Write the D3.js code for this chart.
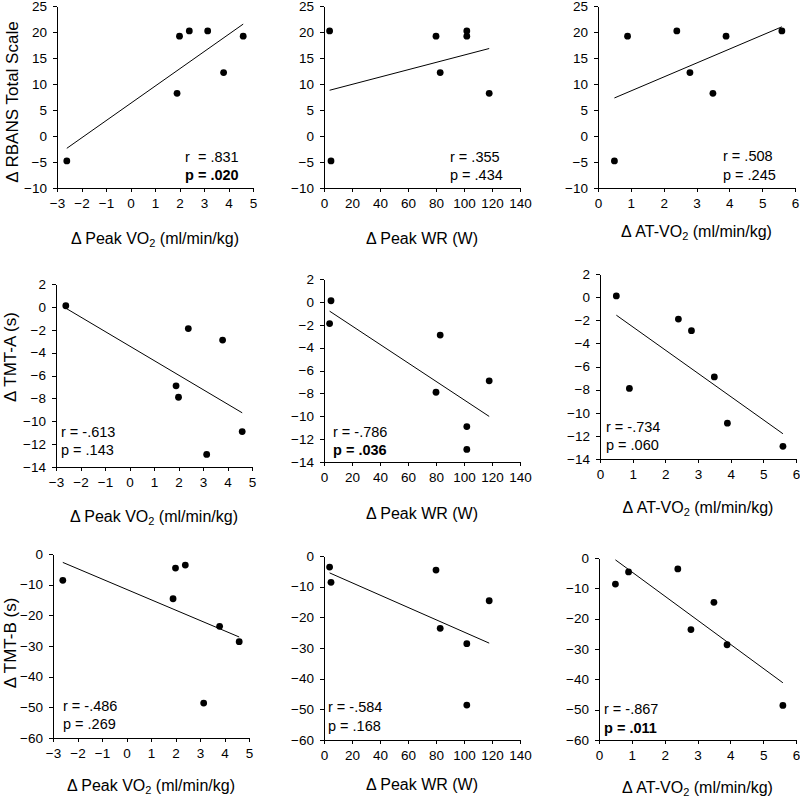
<!DOCTYPE html>
<html>
<head>
<meta charset="utf-8">
<script src="https://cdn.jsdelivr.net/npm/d3@7/dist/d3.min.js"></script>
<style>
  html, body { margin: 0; padding: 0; background: #fff; }
  svg { display: block; font-family: "Liberation Sans", Arial, Helvetica, sans-serif; }
  .axis path, .axis line { stroke: #000; shape-rendering: crispEdges; }
  .axis text { font-size: 13.5px; fill: #000; }
</style>
</head>
<body>
<svg id="chart" width="800" height="799"></svg>
<script>
// ---------------- data ----------------
const peakVO2 = [-2.6, 1.9, 2.0, 2.4, 3.15, 3.8, 4.6];
const peakVO2_rbans = [-4.8, 8.2, 19.2, 20.2, 20.2, 12.2, 19.2];
const peakVO2_tmtA  = [0.1, -6.9, -7.9, -1.9, -12.9, -2.9, -10.9];
const peakVO2_tmtB  = [-8.6, -14.6, -4.6, -3.6, -48.6, -23.6, -28.6];

const peakWR = [4, 5, 80, 83, 102, 102, 118];
const peakWR_rbans = [20.2, -4.8, 19.2, 12.2, 20.2, 19.2, 8.2];
const peakWR_tmtA_x = [5, 4, 80, 83, 102, 102, 118];
const peakWR_tmtA  = [0.1, -1.9, -7.9, -2.9, -10.9, -12.9, -6.9];
const peakWR_tmtB  = [-3.6, -8.6, -4.6, -23.6, -28.6, -48.6, -14.6];

const atVO2 = [0.5, 0.9, 2.4, 2.8, 3.5, 3.9, 5.6];
const atVO2_rbans = [-4.8, 19.2, 20.2, 12.2, 8.2, 19.2, 20.2];
const atVO2_tmtA  = [0.1, -7.9, -1.9, -2.9, -6.9, -10.9, -12.9];
const atVO2_tmtB  = [-8.6, -4.6, -3.6, -23.6, -14.6, -28.6, -48.6];

const ticksVO2 = [-3, -2, -1, 0, 1, 2, 3, 4, 5];
const ticksWR  = [0, 20, 40, 60, 80, 100, 120, 140];
const ticksAT  = [0, 1, 2, 3, 4, 5, 6];
const ticksRBANS = [-10, -5, 0, 5, 10, 15, 20, 25];
const ticksTMTA  = [-14, -12, -10, -8, -6, -4, -2, 0, 2];
const ticksTMTB  = [-60, -50, -40, -30, -20, -10, 0];

const rLabels = ["r  = .831", "r = .355", "r = .508",
                 "r = -.613", "r = -.786", "r = -.734",
                 "r = -.486", "r = -.584", "r = -.867"];
const pLabels = ["p = .020", "p = .434", "p = .245",
                 "p = .143", "p = .036", "p = .060",
                 "p = .269", "p = .168", "p = .011"];
const pBold = [true, false, false, false, true, false, false, false, true];

const xTitles = [["Δ Peak VO", "2", " (ml/min/kg)"], ["Δ Peak WR (W)", "", ""], ["Δ AT-VO", "2", " (ml/min/kg)"]];
const yTitles = ["Δ RBANS Total Scale", "Δ TMT-A (s)", "Δ TMT-B (s)"];

// ---------------- layout (pixels) ----------------
const panels = [
  {x: peakVO2, y: peakVO2_rbans, xd: [-3, 5], yd: [-10, 25], xt: ticksVO2, yt: ticksRBANS, xr: [57, 253], yr: [188, 6], col: 0, tY: 240, ann: [185, 162, 180]},
  {x: peakWR,  y: peakWR_rbans,  xd: [0, 140], yd: [-10, 25], xt: ticksWR, yt: ticksRBANS, xr: [324, 520], yr: [188, 6], col: 1, tY: 240, ann: [450, 162, 180]},
  {x: atVO2,   y: atVO2_rbans,   xd: [0, 6], yd: [-10, 25], xt: ticksAT, yt: ticksRBANS, xr: [598, 795], yr: [188, 6], col: 2, tY: 233, ann: [723, 161, 180]},
  {x: peakVO2, y: peakVO2_tmtA,  xd: [-3, 5], yd: [-14, 2], xt: ticksVO2, yt: ticksTMTA, xr: [56, 252], yr: [467, 284], col: 0, tY: 518, ann: [61, 437, 455]},
  {x: peakWR_tmtA_x, y: peakWR_tmtA, xd: [0, 140], yd: [-14, 2], xt: ticksWR, yt: ticksTMTA, xr: [324, 520], yr: [462, 279], col: 1, tY: 515, ann: [333, 437, 455]},
  {x: atVO2,   y: atVO2_tmtA,    xd: [0, 6], yd: [-14, 2], xt: ticksAT, yt: ticksTMTA, xr: [600, 796], yr: [459, 274], col: 2, tY: 509, ann: [606, 432, 450]},
  {x: peakVO2, y: peakVO2_tmtB,  xd: [-3, 5], yd: [-60, 0], xt: ticksVO2, yt: ticksTMTB, xr: [53, 249], yr: [738, 554], col: 0, tY: 787, ann: [63, 711, 729]},
  {x: peakWR,  y: peakWR_tmtB,   xd: [0, 140], yd: [-60, 0], xt: ticksWR, yt: ticksTMTB, xr: [324, 520], yr: [740, 556], col: 1, tY: 786, ann: [328, 712, 731]},
  {x: atVO2,   y: atVO2_tmtB,    xd: [0, 6], yd: [-60, 0], xt: ticksAT, yt: ticksTMTB, xr: [599, 796], yr: [740, 558], col: 2, tY: 789, ann: [604, 714, 733]}
];
const yTitlePos = [[14, 102], [12, 357], [12, 643]];

const svg = d3.select("#chart");

function regression(xs, ys) {
  const n = xs.length;
  const mx = d3.mean(xs), my = d3.mean(ys);
  let sxy = 0, sxx = 0;
  for (let i = 0; i < n; i++) { sxy += (xs[i] - mx) * (ys[i] - my); sxx += (xs[i] - mx) ** 2; }
  const b = sxy / sxx;
  return x => my + b * (x - mx);
}

panels.forEach((p, i) => {
  const xs = d3.scaleLinear().domain(p.xd).range(p.xr);
  const ys = d3.scaleLinear().domain(p.yd).range(p.yr);
  const g = svg.append("g");

  g.append("g").attr("class", "axis")
    .attr("transform", `translate(0,${p.yr[0]})`)
    .call(d3.axisBottom(xs).tickValues(p.xt).tickSize(4).tickSizeOuter(0).tickPadding(6).tickFormat(d3.format("d")))
    .call(a => a.selectAll("text").attr("dy", "0.71em"));

  g.append("g").attr("class", "axis")
    .attr("transform", `translate(${p.xr[0]},0)`)
    .call(d3.axisLeft(ys).tickValues(p.yt).tickSize(4).tickSizeOuter(0).tickPadding(6).tickFormat(d3.format("d")));

  // regression line
  const f = regression(p.x, p.y);
  const x0 = d3.min(p.x), x1 = d3.max(p.x);
  g.append("line")
    .attr("x1", xs(x0)).attr("y1", ys(f(x0)))
    .attr("x2", xs(x1)).attr("y2", ys(f(x1)))
    .attr("stroke", "#000").attr("stroke-width", 1);

  // points
  g.selectAll("circle").data(p.x.map((v, k) => [v, p.y[k]])).enter()
    .append("circle")
    .attr("cx", d => xs(d[0])).attr("cy", d => ys(d[1]))
    .attr("r", 3.4).attr("fill", "#000");

  // annotations
  g.append("text").attr("x", p.ann[0]).attr("y", p.ann[1])
    .attr("font-size", 14.5).attr("xml:space", "preserve").style("white-space", "pre")
    .text(rLabels[i]);
  g.append("text").attr("x", p.ann[0]).attr("y", p.ann[2])
    .attr("font-size", 14.5).attr("font-weight", pBold[i] ? "bold" : "normal")
    .text(pLabels[i]);

  // x title
  const t = xTitles[p.col];
  const tt = g.append("text").attr("x", (p.xr[0] + p.xr[1]) / 2).attr("y", p.tY)
    .attr("text-anchor", "middle").attr("dominant-baseline", "middle").attr("font-size", 16);
  tt.append("tspan").text(t[0]);
  if (t[1]) {
    tt.append("tspan").attr("font-size", 11).attr("dy", 4).text(t[1]);
    tt.append("tspan").attr("dy", -4).text(t[2]);
  }
});

yTitles.forEach((t, r) => {
  svg.append("text")
    .attr("transform", `translate(${yTitlePos[r][0]},${yTitlePos[r][1]}) rotate(-90)`)
    .attr("text-anchor", "middle").attr("dominant-baseline", "middle")
    .attr("font-size", 17).text(t);
});
</script>
</body>
</html>
